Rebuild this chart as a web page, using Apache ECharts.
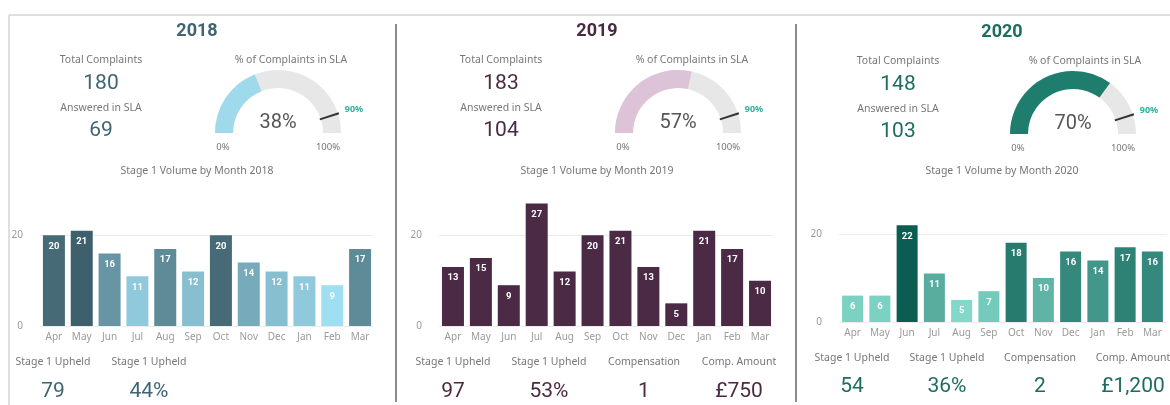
<!DOCTYPE html>
<html>
<head>
<meta charset="utf-8">
<title>Complaints by Year</title>
<script src="https://cdn.jsdelivr.net/npm/echarts@6/dist/echarts.min.js"></script>
<style>
  html, body { margin: 0; padding: 0; background: #fff; }
  #chart { width: 1170px; height: 405px; }
</style>
</head>
<body>
<div id="chart"></div>
<script>
// data
const years = ['2018', '2019', '2020'];
const months = ['Apr', 'May', 'Jun', 'Jul', 'Aug', 'Sep', 'Oct', 'Nov', 'Dec', 'Jan', 'Feb', 'Mar'];
const vol2018 = [20, 21, 16, 11, 17, 12, 20, 14, 12, 11, 9, 17];
const vol2019 = [13, 15, 9, 27, 12, 20, 21, 13, 5, 21, 17, 10];
const vol2020 = [6, 6, 22, 11, 5, 7, 18, 10, 16, 14, 17, 16];
const totalComplaints = [180, 183, 148];
const answeredInSla = [69, 104, 103];
const slaPct = [38, 57, 70];
const slaTarget = [90, 90, 90];
const upheldCount = [79, 97, 54];
const upheldPct = [44, 53, 36];
const compensation = [null, 1, 2];
const compAmount = [null, 750, 1200];

const volumes = [vol2018, vol2019, vol2020];

// layout / styling per panel
const themeColor = ['#3f6472', '#4a2a43', '#1e6c60'];
const gaugeFill = ['#9fd9ec', '#dcc3d8', '#1f7d6e'];
const panels = [
  { cx: 197, kpiX: 101, gx: 278, gy: 133, pctX: 291, dy: 0, botX: [53, 149], botY: [362, 392],
    grid: { left: 40, right: 796, top: 190, bottom: 79 } },
  { cx: 597, kpiX: 501, gx: 678, gy: 133, pctX: 692, dy: 0, botX: [453, 549, 644, 739], botY: [362, 392],
    grid: { left: 439, right: 396, top: 190, bottom: 79 } },
  { cx: 1002, kpiX: 898, gx: 1073, gy: 134, pctX: 1085, dy: 1, botX: [852, 947, 1040, 1133], botY: [358, 387],
    grid: { left: 839, right: 4, top: 190, bottom: 83 } }
];

const labelFont = '"Noto Sans", "Open Sans", sans-serif';
const numFont = 'Roboto, "DejaVu Sans", sans-serif';

function txt(text, x, y, size, color, font, weight) {
  return {
    type: 'text',
    silent: true,
    style: {
      text: String(text), x: x, y: y,
      fill: color,
      font: (weight || 'normal') + ' ' + size + 'px ' + font,
      align: 'center', verticalAlign: 'middle',
      textAlign: 'center', textVerticalAlign: 'middle'
    }
  };
}

const graphic = [];
// frame lines
graphic.push({ type: 'line', silent: true, shape: { x1: 9, y1: 15, x2: 1170, y2: 15 }, style: { stroke: '#d4d4d4', lineWidth: 1.5 } });
graphic.push({ type: 'line', silent: true, shape: { x1: 9, y1: 15, x2: 9, y2: 405 }, style: { stroke: '#d4d4d4', lineWidth: 1.5 } });
graphic.push({ type: 'line', silent: true, shape: { x1: 396, y1: 24, x2: 396, y2: 402 }, style: { stroke: '#8c8c8c', lineWidth: 2 } });
graphic.push({ type: 'line', silent: true, shape: { x1: 796, y1: 24, x2: 796, y2: 402 }, style: { stroke: '#8c8c8c', lineWidth: 2 } });

const botLabels = ['Stage 1 Upheld', 'Stage 1 Upheld', 'Compensation', 'Comp. Amount'];

panels.forEach((p, i) => {
  const c = themeColor[i];
  const d = p.dy;
  graphic.push(txt(years[i], p.cx, 31 + d, 18, c, numFont, 'bold'));
  graphic.push(txt('Total Complaints', p.kpiX, 60 + d, 10.5, '#777', labelFont));
  graphic.push(txt(totalComplaints[i], p.kpiX, 84 + d, 21, c, numFont));
  graphic.push(txt('Answered in SLA', p.kpiX, 108 + d, 10.5, '#777', labelFont));
  graphic.push(txt(answeredInSla[i], p.kpiX, 131 + d, 21, c, numFont));
  graphic.push(txt('% of Complaints in SLA', p.pctX, 60 + d, 10.5, '#777', labelFont));
  graphic.push(txt('0%', p.gx - 55, 147 + d, 9.5, '#777', labelFont));
  graphic.push(txt('100%', p.gx + 50, 147 + d, 9.5, '#777', labelFont));
  graphic.push(txt('Stage 1 Volume by Month ' + years[i], p.cx, 171, 10.5, '#777', labelFont));

  const vals = [
    upheldCount[i],
    upheldPct[i] + '%',
    compensation[i],
    compAmount[i] == null ? null : '£' + compAmount[i].toLocaleString('en-GB')
  ];
  p.botX.forEach((x, k) => {
    if (vals[k] == null) return;
    graphic.push(txt(botLabels[k], x, p.botY[0], 10.5, '#777', labelFont));
    graphic.push(txt(vals[k], x, p.botY[1], 21, c, numFont));
  });
});

const grid = panels.map(p => p.grid);
const xAxis = panels.map((p, i) => ({
  type: 'category',
  gridIndex: i,
  data: months,
  axisLine: { show: false },
  axisTick: { show: false },
  axisLabel: { color: '#9a9a9a', fontSize: 10, margin: 6, fontFamily: labelFont }
}));
const yAxis = panels.map((p, i) => ({
  type: 'value',
  gridIndex: i,
  min: 0,
  max: 30,
  interval: 20,
  axisLabel: {
    color: '#9a9a9a', fontSize: 10, margin: 17, fontFamily: labelFont,
    formatter: v => (v % 20 === 0 ? String(v) : '')
  },
  splitLine: { lineStyle: { color: ['#ececec', '#ececec', 'rgba(0,0,0,0)'] } }
}));

const series = [];
volumes.forEach((vals, i) => {
  series.push({
    type: 'bar',
    xAxisIndex: i,
    yAxisIndex: i,
    data: vals,
    barWidth: i === 2 ? 21 : 22,
    itemStyle: i === 1 ? { color: '#4b2a45' } : {},
    label: {
      show: true,
      position: 'insideTop',
      distance: 6,
      color: '#fff',
      fontSize: 9.5,
      fontWeight: 'bold',
      fontFamily: numFont
    }
  });
});

panels.forEach((p, i) => {
  // main gauge
  series.push({
    type: 'gauge',
    center: [p.gx, p.gy],
    radius: 63,
    startAngle: 180,
    endAngle: 0,
    min: 0,
    max: 100,
    axisLine: { lineStyle: { width: 18, color: [[1, '#e7e7e7']] } },
    progress: { show: true, width: 18, itemStyle: { color: gaugeFill[i] } },
    pointer: { show: false },
    anchor: { show: false },
    axisTick: { show: false },
    splitLine: { show: false },
    axisLabel: { show: false },
    title: { show: false },
    detail: {
      offsetCenter: [0, -10],
      formatter: '{value}%',
      fontSize: 20,
      fontWeight: 'normal',
      color: '#555',
      fontFamily: numFont
    },
    data: [{ value: slaPct[i] }]
  });
  // target marker
  series.push({
    type: 'gauge',
    center: [p.gx, p.gy],
    radius: 63,
    startAngle: 180,
    endAngle: 0,
    min: 0,
    max: 100,
    axisLine: { show: false },
    progress: { show: false },
    pointer: { icon: 'rect', length: 20, width: 2, offsetCenter: [0, -44], itemStyle: { color: '#333' } },
    anchor: { show: false },
    axisTick: { show: false },
    splitLine: { show: false },
    axisLabel: { show: false },
    title: { show: false },
    detail: {
      offsetCenter: [76, -24],
      formatter: '{value}%',
      fontSize: 9,
      fontWeight: 'bold',
      color: '#2bb39b',
      fontFamily: labelFont
    },
    data: [{ value: slaTarget[i] }]
  });
});

const chart = echarts.init(document.getElementById('chart'));
chart.setOption({
  animation: false,
  backgroundColor: '#fff',
  grid: grid,
  xAxis: xAxis,
  yAxis: yAxis,
  visualMap: [
    { type: 'continuous', show: false, seriesIndex: 0, min: Math.min(...vol2018), max: Math.max(...vol2018),
      inRange: { color: ['#a0def1', '#3e606c'] } },
    { type: 'continuous', show: false, seriesIndex: 2, min: Math.min(...vol2020), max: Math.max(...vol2020),
      inRange: { color: ['#82d8c9', '#0b5d52'] } }
  ],
  series: series,
  graphic: graphic
});

window.addEventListener('resize', () => {
  chart.resize();
});
</script>
</body>
</html>
